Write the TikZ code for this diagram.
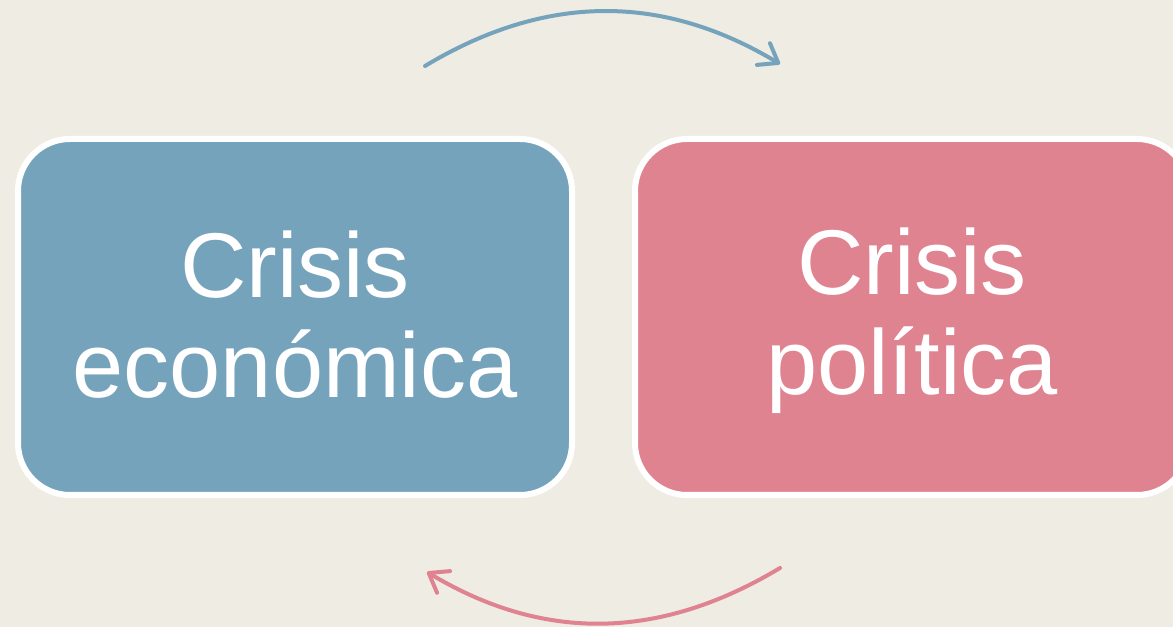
\documentclass[tikz,border=0pt]{standalone}
\usepackage{fontspec}
\setmainfont{Liberation Sans}
\usetikzlibrary{arrows.meta,positioning}
\usepackage{xcolor}
\definecolor{paper}{RGB}{239, 236, 227}
\definecolor{blue}{RGB}{118, 163, 188}
\definecolor{pink}{RGB}{224, 131, 145}
\newcommand\boxstrut{\rule[-8.5pt]{0pt}{63.5pt}}

\begin{document}
\begin{tikzpicture}[x=0.75pt, y=0.75pt, node distance=42.75pt, auto]
            \fill[paper] (0,0) rectangle (1173,627);
            \useasboundingbox (0,0) rectangle (1173,627);

            \tikzset{
                crisis/.style={
                    rectangle,
                    rounded corners=39pt,
                    draw=white,
                    line width=4.5pt,
                    minimum width=415.5pt,
                    minimum height=267pt,
                    align=center,
                    text=white,
                    font=\fontsize{69}{75}\selectfont
                },
                cycle/.style={
                    line width=3pt,
                    line cap=round,
                    -{Straight Barb[round, length=13pt, width=19pt]}
                }
            }

            \node (1) [
                crisis,
                fill=blue
            ] at (295,310)
            {
                Crisis\boxstrut\\
                económica\boxstrut
            };

            \node (2) [
                crisis,
                fill=pink,
                right=of 1
            ]
            {
                Crisis\boxstrut\\
                política\boxstrut
            };

            \coordinate (3) at (425,561);
            \coordinate (4) at (780,563);
            \coordinate (5) at (780,59);
            \coordinate (6) at (427,55);

            \draw[cycle, blue, out=31, in=149] (3) to (4);
            \draw[cycle, pink, out=-149, in=-31] (5) to (6);
        \end{tikzpicture}
\end{document}
